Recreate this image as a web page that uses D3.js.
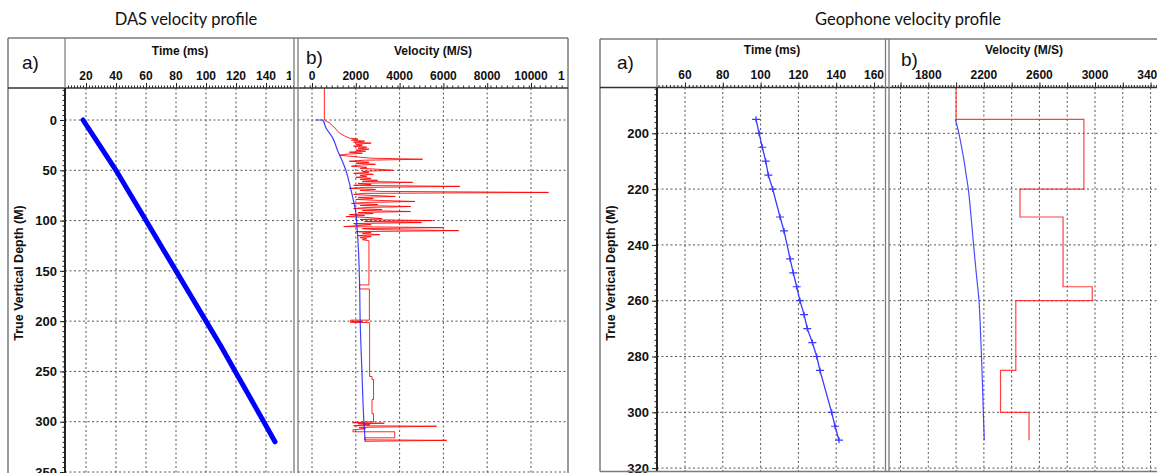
<!DOCTYPE html>
<html><head><meta charset="utf-8">
<script src="https://cdn.jsdelivr.net/npm/d3@7"></script>
<style>body{margin:0;background:#fff}svg{display:block}</style>
</head><body>
<svg id="c" width="1157" height="473"></svg>
<script>
// ================= DATA =================
// DAS panel a) : first-break time vs depth
const dasTimeDepth = [0, 25, 50, 75, 100, 125, 150, 175, 200, 225, 250, 275, 300, 320];
const dasTimeMs    = [18, 29, 40, 50, 60, 70, 80, 90, 100, 110, 119.5, 129, 138.5, 146];
// DAS panel b) : average velocity (blue)
const dasAvgDepth = [0, 0, 8, 18, 31, 38, 51, 63, 78, 91, 108, 131, 160, 200, 250, 300, 320];
const dasAvgVel   = [150, 490, 640, 950, 1180, 1330, 1560, 1710, 1870, 1990, 2060, 2125, 2170, 2200, 2280, 2370, 2430];
// DAS panel b) : interval velocity (red)
const dasIntDepth = [-32, 0, 3, 8, 13, 16, 18, 19, 20, 21, 22, 23, 24, 25, 26, 27, 28, 29, 30, 31, 32, 33, 34, 35, 36, 37, 38, 39, 40,
  41, 42, 43, 44, 45, 46, 47, 48, 49, 50, 51, 52, 53, 54, 55, 56, 57, 58, 59, 60, 61, 62, 63, 64, 65, 66, 67, 68, 69, 70,
  71, 72, 73, 74, 75, 76, 77, 78, 79, 80, 81, 82, 83, 84, 85, 86, 87, 88, 89, 90, 91, 92, 93, 94, 95, 96, 97, 98, 99, 100,
  101, 102, 103, 104, 105, 106, 107, 108, 109, 110, 111, 112, 113, 114, 115, 116, 117, 118, 119, 120,
  164, 164, 168, 168, 199, 199, 200, 200.5, 201, 201.5, 255, 255, 258, 258, 278, 278, 292, 292, 300,
  301, 301.5, 302, 303, 304, 304.5, 305.5, 306, 307, 308, 310, 310, 316, 316, 318, 318.5, 319.5, 320];
const dasIntVel = [565, 565, 800, 1050, 1250, 1500, 1700, 2100, 1800, 2400, 1900, 2700, 2000, 2300, 1900, 2500, 2100, 2600, 2000, 2450, 1700, 2300, 1600, 1250, 1700, 2200, 2700, 5050, 2400,
  1700, 2600, 2000, 2900, 2100, 1800, 2500, 2200, 3000, 3700, 2300, 2600, 1900, 2800, 2200, 2500, 2000, 2700, 2200, 3000, 2300, 4600, 2100, 2700, 1900, 6750, 2400, 1700, 2900, 2200,
  3100, 10800, 2300, 1900, 2700, 3800, 2100, 2800, 2000, 3100, 4700, 2400, 1800, 3000, 2200, 4500, 2500, 1900, 3200, 2300, 4500, 2100, 2800, 1700, 2400, 1550, 2600, 3200, 2200, 5500,
  2400, 5000, 1900, 2700, 2100, 1450, 6000, 2300, 2900, 6700, 2000, 2700, 2300, 3100, 2100, 2700, 2200, 2500, 2300, 2600,
  2600, 2170, 2170, 2620, 2620, 1760, 1760, 2300, 1750, 2630, 2630, 2740, 2740, 2810, 2810, 2740, 2740, 2810, 2810,
  1850, 3300, 2100, 2650, 1900, 5690, 2600, 2150, 2450, 1870, 1870, 3780, 3780, 2400, 2400, 6150, 2450, 2450];

// Geophone panel a) : time vs depth
const geoDepth = [195, 200, 205, 210, 215, 220, 230, 235, 245, 250, 255, 260, 265, 270, 275, 280, 285, 300, 305, 310];
const geoTime  = [97.6, 99.2, 100.9, 102.7, 104.1, 106.4, 110.3, 112.4, 115.6, 117.3, 119.1, 120.8, 123, 124.7, 127.4, 129.7, 131.4, 137.6, 139.4, 141.5];
// Geophone panel b) : average velocity (blue)
const geoAvgDepth = [195, 200, 205, 210, 215, 220, 230, 240, 250, 260, 270, 280, 290, 300, 310];
const geoAvgVel   = [1995, 2020, 2040, 2058, 2073, 2088, 2108, 2126, 2145, 2165, 2175, 2183, 2190, 2196, 2203];
// Geophone panel b) : interval velocity (red), layer tops and velocities
const geoIntTop  = [183, 195, 220, 230, 255, 260, 285, 300];
const geoIntVel  = [2000, 2920, 2460, 2770, 2980, 2430, 2320, 2525];
const geoIntBase = 310;

// Tick labels
const dasTimeTicks = [20, 40, 60, 80, 100, 120, 140, 160];
const dasVelTicks  = [0, 2000, 4000, 6000, 8000, 10000, 12000];
const dasDepthTicks = [0, 50, 100, 150, 200, 250, 300, 350];
const geoTimeTicks = [60, 80, 100, 120, 140, 160];
const geoVelGrid   = [1600, 1800, 2000, 2200, 2400, 2600, 2800, 3000, 3200, 3400];
const geoVelTicks  = [1800, 2200, 2600, 3000, 3400];
const geoDepthTicks = [200, 220, 240, 260, 280, 300, 320];

// ================= DRAWING =================
const svg = d3.select('#c');
const FONT = "'Liberation Sans', Arial, sans-serif";
const FRAME = '#7a7a7a';
const GRID = '#555';
let clipN = 0;

function line(g, x1, y1, x2, y2, col, w) {
  g.append('line').attr('x1', x1).attr('y1', y1).attr('x2', x2).attr('y2', y2)
    .attr('stroke', col).attr('stroke-width', w);
}
function clip(x, y, w, h) {
  const id = 'cp' + (clipN++);
  svg.append('clipPath').attr('id', id).append('rect')
    .attr('x', x).attr('y', y).attr('width', w).attr('height', h);
  return `url(#${id})`;
}

function figure(o) {
  const g = svg.append('g');
  g.append('text').attr('x', o.titleX).attr('y', 25).attr('text-anchor', 'middle')
    .attr('font-family', "Lato, 'Open Sans', sans-serif").attr('font-size', 16.5).attr('fill', '#111').text(o.title);

  const y = o.y;
  o.panels.forEach(p => {
    const cp = clip(p.x0, o.plotTop, p.x1 - p.x0, o.bottom - o.plotTop);
    const pg = g.append('g').attr('clip-path', cp);
    // grid
    pg.selectAll(null).data(p.grid).join('line')
      .attr('x1', d => p.scale(d)).attr('x2', d => p.scale(d))
      .attr('y1', o.plotTop).attr('y2', o.bottom)
      .attr('stroke', GRID).attr('stroke-width', 1).attr('stroke-dasharray', '2,2.5');
    pg.selectAll(null).data(o.yTicks).join('line')
      .attr('x1', p.x0).attr('x2', p.x1)
      .attr('y1', d => y(d)).attr('y2', d => y(d))
      .attr('stroke', GRID).attr('stroke-width', 1).attr('stroke-dasharray', '2,2.5');
    p.draw(pg);
    // top axis ticks
    const minor = p.minor.filter(d => p.scale(d) >= p.x0 + 1 && p.scale(d) <= p.x1 - 1);
    const ax = g.append('g').attr('transform', `translate(0,${o.plotTop})`);
    ax.call(d3.axisTop(p.scale).tickValues(minor).tickSize(2.5).tickFormat(''));
    ax.call(g2 => g2.select('.domain').remove());
    const ax2 = g.append('g').attr('transform', `translate(0,${o.plotTop})`);
    ax2.call(d3.axisTop(p.scale).tickValues(p.grid.filter(d => p.scale(d) <= p.x1 - 1)).tickSize(5).tickFormat(''));
    ax2.call(g2 => g2.select('.domain').remove());
    g.selectAll('.tick line').attr('stroke', '#222');
    // tick labels
    const lc = clip(p.x0, o.top, p.labelClip - p.x0, o.plotTop - o.top);
    g.append('g').attr('clip-path', lc).selectAll(null).data(p.labels).join('text')
      .attr('x', d => p.scale(d)).attr('y', o.labelY).attr('text-anchor', 'middle')
      .attr('font-family', FONT).attr('font-weight', 'bold').attr('font-size', 12).attr('fill', '#111')
      .text(d => d);
    g.append('text').attr('x', p.titleX).attr('y', o.axisTitleY).attr('text-anchor', 'middle')
      .attr('font-family', FONT).attr('font-weight', 'bold').attr('font-size', 12).attr('fill', '#111').text(p.title);
    if (p.tag) g.append('text').attr('x', p.tag[0]).attr('y', p.tag[1])
      .attr('font-family', FONT).attr('font-size', 19).attr('fill', '#111').text(p.tag[2]);
  });

  // y axis
  const yMinor = o.yMinor;
  const ay = g.append('g').attr('transform', `translate(${o.axisX},0)`);
  ay.call(d3.axisLeft(y).tickValues(yMinor).tickSize(2.5).tickFormat(''));
  ay.call(g2 => g2.select('.domain').remove());
  const ay2 = g.append('g').attr('transform', `translate(${o.axisX},0)`);
  ay2.call(d3.axisLeft(y).tickValues(o.yTicks).tickSize(5).tickPadding(3));
  ay2.call(g2 => g2.select('.domain').remove());
  ay2.selectAll('text').attr('font-family', FONT).attr('font-weight', 'bold').attr('font-size', 13).attr('fill', '#111');
  g.selectAll('.tick line').attr('stroke', '#222');
  g.append('text').attr('transform', `translate(${o.yTitleX},${o.yTitleY}) rotate(-90)`)
    .attr('text-anchor', 'middle').attr('font-family', FONT).attr('font-weight', 'bold')
    .attr('font-size', 12.5).attr('fill', '#111').text('True Vertical Depth (M)');
  g.append('text').attr('x', o.aTag[0]).attr('y', o.aTag[1])
    .attr('font-family', FONT).attr('font-size', 19).attr('fill', '#111').text('a)');

  // frames
  const F = g.append('g');
  line(F, o.left, o.top, o.right, o.top, FRAME, 1.5);
  line(F, o.left, o.top, o.left, o.bottom, FRAME, 1.5);
  if (o.right < 1157) line(F, o.right, o.top, o.right, o.bottom, FRAME, 1.5);
  line(F, o.left, o.plotTop, o.right, o.plotTop, '#333', 1.3);
  line(F, o.axisX, o.top, o.axisX, o.plotTop, FRAME, 1.2);
  line(F, o.axisX, o.plotTop, o.axisX, o.bottom, '#222', 2);
  o.seps.forEach(s => line(F, s, o.top, s, o.bottom, FRAME, 1.3));
  if (o.bottomLine) line(F, o.left, o.bottom, o.right, o.bottom, FRAME, 1.5);
}

// ---------- DAS ----------
const dasY  = d3.scaleLinear().domain([0, 350]).range([120, 472]);
const dasXT = d3.scaleLinear().domain([20, 140]).range([86, 266]);
const dasXV = d3.scaleLinear().domain([0, 10000]).range([312, 531]);

figure({
  title: 'DAS velocity profile', titleX: 186,
  left: 8, right: 568, top: 38, plotTop: 88, bottom: 480, axisX: 65,
  labelY: 80, axisTitleY: 55, y: dasY, yTicks: dasDepthTicks,
  yMinor: d3.range(-30, 351, 5), yTitleX: 23, yTitleY: 273, aTag: [22, 69],
  seps: [294, 298],
  panels: [
    { x0: 65, x1: 294, labelClip: 291, scale: dasXT, grid: dasTimeTicks, labels: dasTimeTicks,
      minor: d3.range(6, 161, 2), title: 'Time (ms)', titleX: 180,
      draw: g => g.append('path').datum(dasTimeDepth.map((d, i) => [dasTimeMs[i], d]))
        .attr('d', d3.line().x(d => dasXT(d[0])).y(d => dasY(d[1])))
        .attr('fill', 'none').attr('stroke', '#0000ff').attr('stroke-width', 5).attr('stroke-linecap', 'round') },
    { x0: 298, x1: 568, labelClip: 565, scale: dasXV, grid: dasVelTicks, labels: dasVelTicks,
      minor: d3.range(-600, 12001, 250), title: 'Velocity (M/S)', titleX: 433, tag: [306, 64, 'b)'],
      draw: g => {
        g.append('path').datum(dasIntDepth.map((d, i) => [dasIntVel[i], d]))
          .attr('d', d3.line().x(d => dasXV(d[0])).y(d => dasY(d[1])))
          .attr('fill', 'none').attr('stroke', '#ff0000').attr('stroke-width', 1).attr('stroke-opacity', 0.85);
        g.append('path').datum(dasAvgDepth.map((d, i) => [dasAvgVel[i], d]))
          .attr('d', d3.line().curve(d3.curveMonotoneY).x(d => dasXV(d[0])).y(d => dasY(d[1])))
          .attr('fill', 'none').attr('stroke', '#2020ff').attr('stroke-width', 1.2).attr('stroke-opacity', 0.85);
      } }
  ]
});

// ---------- Geophone ----------
const geoY  = d3.scaleLinear().domain([200, 300]).range([133.3, 412.3]);
const geoXT = d3.scaleLinear().domain([60, 160]).range([685, 874]);
const geoXV = d3.scaleLinear().domain([1800, 3000]).range([928.3, 1095]);

const geoSteps = [];
geoIntTop.forEach((t, i) => {
  const b = i < geoIntTop.length - 1 ? geoIntTop[i + 1] : geoIntBase;
  geoSteps.push([geoIntVel[i], t], [geoIntVel[i], b]);
});

figure({
  title: 'Geophone velocity profile', titleX: 908,
  left: 600, right: 1160, top: 39, plotTop: 87.5, bottom: 471.5, axisX: 657, bottomLine: true,
  labelY: 79, axisTitleY: 54, y: geoY, yTicks: geoDepthTicks,
  yMinor: d3.range(184, 321, 2), yTitleX: 615, yTitleY: 273, aTag: [617, 69],
  seps: [885.5, 889],
  panels: [
    { x0: 657, x1: 885.5, labelClip: 885, scale: geoXT, grid: geoTimeTicks, labels: geoTimeTicks,
      minor: d3.range(46, 165, 2), title: 'Time (ms)', titleX: 772,
      draw: g => {
        g.append('path').datum(geoDepth.map((d, i) => [geoTime[i], d]))
          .attr('d', d3.line().x(d => geoXT(d[0])).y(d => geoY(d[1])))
          .attr('fill', 'none').attr('stroke', '#3a3aff').attr('stroke-width', 1.3);
        g.selectAll(null).data(geoDepth.map((d, i) => [geoTime[i], d])).join('path')
          .attr('d', d => { const x = geoXT(d[0]), yy = geoY(d[1]);
            return `M${x - 4},${yy}H${x + 4}M${x},${yy - 3}V${yy + 3}`; })
          .attr('stroke', '#3a3aff').attr('stroke-width', 1.2).attr('fill', 'none');
      } },
    { x0: 889, x1: 1160, labelClip: 1160, scale: geoXV, grid: geoVelGrid, labels: geoVelTicks,
      minor: d3.range(1520, 3441, 20), title: 'Velocity (M/S)', titleX: 1024, tag: [901, 66, 'b)'],
      draw: g => {
        g.append('path').datum(geoSteps)
          .attr('d', d3.line().x(d => geoXV(d[0])).y(d => geoY(d[1])))
          .attr('fill', 'none').attr('stroke', '#ff2020').attr('stroke-width', 1.2).attr('stroke-opacity', 0.85);
        g.append('path').datum(geoAvgDepth.map((d, i) => [geoAvgVel[i], d]))
          .attr('d', d3.line().curve(d3.curveMonotoneY).x(d => geoXV(d[0])).y(d => geoY(d[1])))
          .attr('fill', 'none').attr('stroke', '#2a2aff').attr('stroke-width', 1.2).attr('stroke-opacity', 0.85);
      } }
  ]
});
</script>
</body></html>
